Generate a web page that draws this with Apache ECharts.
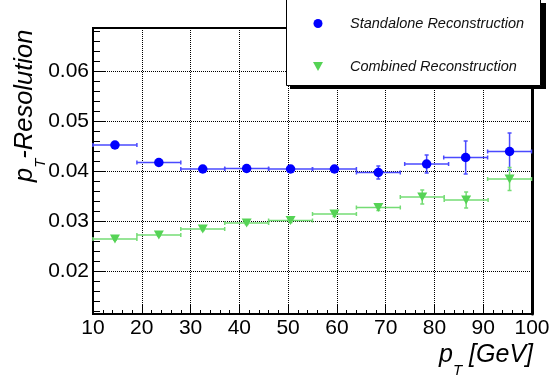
<!DOCTYPE html>
<html>
<head>
<meta charset="utf-8">
<script src="https://cdn.jsdelivr.net/npm/echarts@6/dist/echarts.min.js"></script>
<style>
  html, body { margin: 0; padding: 0; background: #fff; }
  #chart { width: 559px; height: 376px; }
</style>
</head>
<body>
<div id="chart"></div>
<script>
// Momentum resolution vs. transverse momentum, two reconstruction methods.
const seriesNames = ['Standalone Reconstruction', 'Combined Reconstruction'];

const standaloneX    = [14.5, 23.5, 32.5, 41.5, 50.5, 59.5, 68.5, 78.4, 86.4, 95.4];
const standaloneXErr = [4.5, 4.5, 4.5, 4.5, 4.5, 4.5, 4.5, 4.5, 4.5, 4.5];
const standaloneY    = [0.0453, 0.0418, 0.0405, 0.0406, 0.0405, 0.0405, 0.0398, 0.0415, 0.0428, 0.0440];
const standaloneYErr = [0.0003, 0.0003, 0.0003, 0.0004, 0.0004, 0.0006, 0.0013, 0.0018, 0.0033, 0.0037];

const combinedX    = [14.5, 23.5, 32.5, 41.5, 50.5, 59.5, 68.5, 77.5, 86.5, 95.4];
const combinedXErr = [4.5, 4.5, 4.5, 4.5, 4.5, 4.5, 4.5, 4.5, 4.5, 4.5];
const combinedY    = [0.0265, 0.0273, 0.0285, 0.0297, 0.0302, 0.0315, 0.0328, 0.0349, 0.0343, 0.0385];
const combinedYErr = [0.0002, 0.0002, 0.0003, 0.0003, 0.0004, 0.0005, 0.0006, 0.0014, 0.0016, 0.0023];

const xRange = [10, 100];
const yRange = [0.0115, 0.0687];
const yMajorTicks = [0.02, 0.03, 0.04, 0.05, 0.06];
const yMinorTicks = [0.012, 0.014, 0.016, 0.018, 0.022, 0.024, 0.026, 0.028, 0.032, 0.034, 0.036, 0.038,
                     0.042, 0.044, 0.046, 0.048, 0.052, 0.054, 0.056, 0.058, 0.062, 0.064, 0.066, 0.068];

const FONT = '"Liberation Sans", Arial, Helvetica, sans-serif';
const BLUE = '#0000ff';
const BLUE_BAR = '#4a4aff';
const GREEN = '#55d355';
const GREEN_BAR = '#74dc74';
const TRI_DOWN = 'path://M0,0 L10,0 L5,9 Z';

function zip(xs, ys, exs, eys) {
  return xs.map((x, i) => [x, ys[i], exs[i], eys[i]]);
}

// Error bars with small end caps, positioned through the axis scales.
function errorBars(color) {
  return function (params, api) {
    const x = api.value(0), y = api.value(1), ex = api.value(2), ey = api.value(3);
    const l = api.coord([x - ex, y]), r = api.coord([x + ex, y]);
    const b = api.coord([x, y - ey]), t = api.coord([x, y + ey]);
    const c = 2;
    const st = { stroke: color, lineWidth: 1.5 };
    const seg = (x1, y1, x2, y2) => ({ type: 'line', shape: { x1, y1, x2, y2 }, style: st });
    return {
      type: 'group',
      children: [
        seg(l[0], l[1], r[0], r[1]),
        seg(l[0], l[1] - c, l[0], l[1] + c),
        seg(r[0], r[1] - c, r[0], r[1] + c),
        seg(b[0], b[1], t[0], t[1]),
        seg(b[0] - c, b[1], b[0] + c, b[1]),
        seg(t[0] - c, t[1], t[0] + c, t[1])
      ]
    };
  };
}

// Text with a subscript, laid out piece by piece.
const mctx = document.createElement('canvas').getContext('2d');
function measure(font, s) { mctx.font = font; return mctx.measureText(s).width; }

function subscriptText(main, sub, rest, size, subSize, subDrop) {
  const f1 = 'italic ' + size + 'px ' + FONT;
  const f2 = 'italic ' + subSize + 'px ' + FONT;
  const w1 = measure(f1, main), w2 = measure(f2, sub), w3 = measure(f1, rest);
  const mk = (text, x, y, font) => ({
    type: 'text', x, y,
    style: { text, font, fill: '#000', textAlign: 'left', textVerticalAlign: 'bottom' }
  });
  return {
    width: w1 + w2 + w3,
    children: [mk(main, 0, 0, f1), mk(sub, w1, subDrop, f2), mk(rest, w1 + w2, 0, f1)]
  };
}

const yTitle = subscriptText('p', 'T', '-Resolution', 25.5, 15, 10);
const xTitle = subscriptText('p', 'T', ' [GeV]', 25, 15, 10);

const chart = echarts.init(document.getElementById('chart'), null, { renderer: 'canvas' });

chart.setOption({
  animation: false,
  backgroundColor: '#fff',
  grid: {
    left: 93, right: 27, top: 28, bottom: 62,
    show: true, borderColor: '#000', borderWidth: 2, backgroundColor: 'transparent'
  },
  xAxis: [{
    type: 'value', min: xRange[0], max: xRange[1], interval: 10,
    axisLine: { show: true, onZero: false, lineStyle: { color: '#000', width: 2 } },
    axisTick: { show: true, inside: true, length: 9, lineStyle: { color: '#000', width: 1 } },
    minorTick: { show: true, splitNumber: 5, length: 4, lineStyle: { color: '#000', width: 1 } },
    axisLabel: { show: true, color: '#000', fontFamily: FONT, fontSize: 21, margin: 4 },
    splitLine: { show: true, lineStyle: { color: '#000', width: 1, type: [1, 1] } }
  }],
  yAxis: [{
    type: 'value', min: yRange[0], max: yRange[1], position: 'left',
    axisLine: { show: true, onZero: false, lineStyle: { color: '#000', width: 2 } },
    axisTick: { show: true, inside: true, length: 13, customValues: yMajorTicks, lineStyle: { color: '#000', width: 1 } },
    axisLabel: {
      show: true, customValues: yMajorTicks, color: '#000', fontFamily: FONT, fontSize: 21, margin: 4,
      formatter: v => v.toFixed(2)
    },
    splitLine: { show: true, lineStyle: { color: '#000', width: 1, type: [1, 1] } }
  }, {
    type: 'value', min: yRange[0], max: yRange[1], position: 'left',
    axisLine: { show: false },
    axisTick: { show: true, inside: true, length: 7, customValues: yMinorTicks, lineStyle: { color: '#000', width: 1 } },
    axisLabel: { show: false },
    splitLine: { show: false }
  }, {
    type: 'value', min: yRange[0], max: yRange[1], position: 'right',
    axisLine: { show: true, onZero: false, lineStyle: { color: '#000', width: 3 } },
    axisTick: { show: false }, axisLabel: { show: false }, splitLine: { show: false }
  }],
  legend: {
    orient: 'vertical', left: 313, top: 16, padding: 0, z: 10,
    itemWidth: 10, itemHeight: 9, itemGap: 28, selectedMode: false,
    data: seriesNames,
    formatter: name => '{g| }' + name,
    textStyle: {
      fontFamily: FONT, fontStyle: 'italic', fontSize: 14.5, color: '#111',
      rich: { g: { width: 22 } }
    }
  },
  graphic: [
    { type: 'rect', z: 8, shape: { x: 290, y: 3, width: 256, height: 86 }, style: { fill: '#000' } },
    { type: 'rect', z: 9, shape: { x: 286.5, y: -0.5, width: 254, height: 86 },
      style: { fill: '#fff', stroke: '#000', lineWidth: 1 } },
    { type: 'group', x: 38, y: 182, rotation: Math.PI / 2, children: yTitle.children },
    { type: 'group', x: 533 - xTitle.width, y: 368, children: xTitle.children }
  ],
  series: [{
    name: 'standalone errors', type: 'custom', z: 2,
    renderItem: errorBars(BLUE_BAR),
    encode: { x: 0, y: 1 },
    data: zip(standaloneX, standaloneY, standaloneXErr, standaloneYErr)
  }, {
    name: 'combined errors', type: 'custom', z: 2,
    renderItem: errorBars(GREEN_BAR),
    encode: { x: 0, y: 1 },
    data: zip(combinedX, combinedY, combinedXErr, combinedYErr)
  }, {
    name: seriesNames[0], type: 'scatter', z: 3,
    symbol: 'circle', symbolSize: 9.5,
    itemStyle: { color: BLUE, opacity: 1 },
    data: standaloneX.map((x, i) => [x, standaloneY[i]])
  }, {
    name: seriesNames[1], type: 'scatter', z: 3,
    symbol: TRI_DOWN, symbolSize: [10, 9],
    itemStyle: { color: GREEN, opacity: 1 },
    data: combinedX.map((x, i) => [x, combinedY[i]])
  }]
});
</script>
</body>
</html>
